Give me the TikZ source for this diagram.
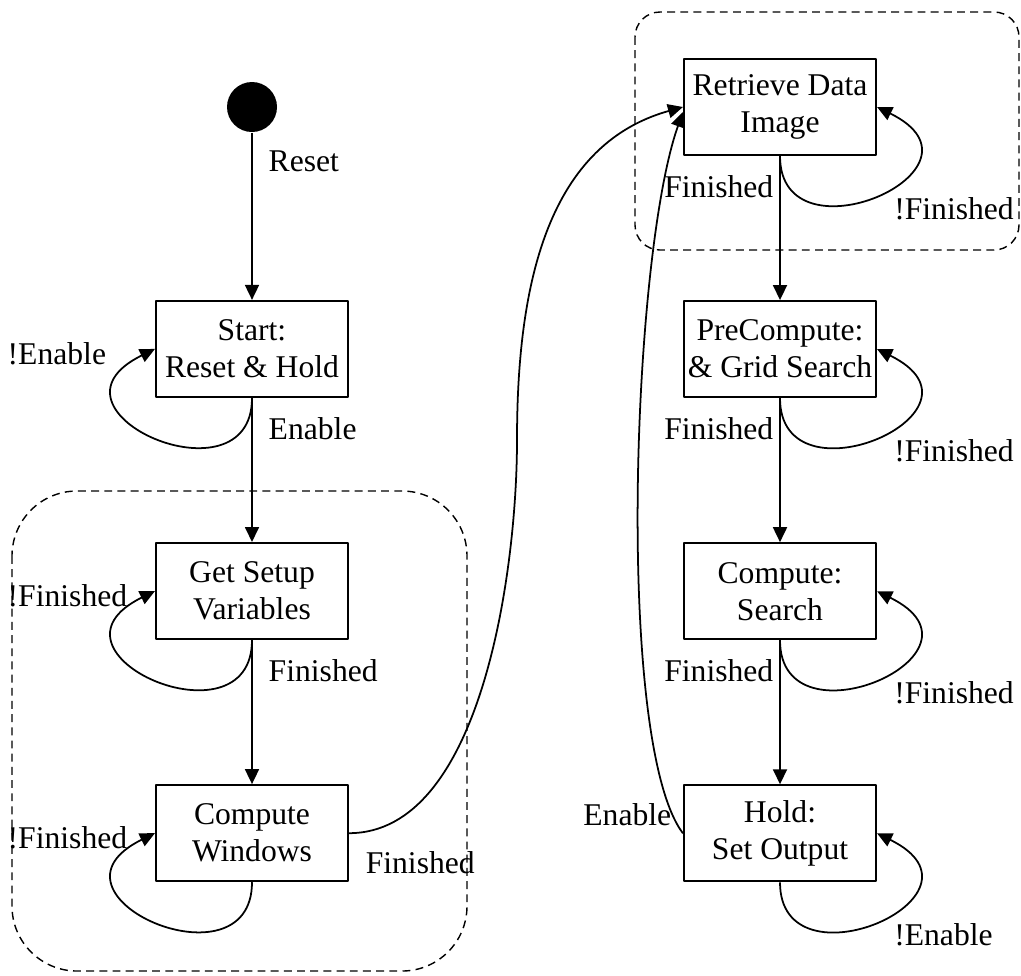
\documentclass[tikz,border=0pt]{standalone}
\usepackage{fontspec}
\setmainfont{Liberation Serif}
\usetikzlibrary{positioning,arrows.meta}
\begin{document}
\begin{tikzpicture}[font=\fontsize{18}{21}\selectfont, line join=round, line width=1pt,
		>={Triangle[length=0.3cm,width=0.28cm]}, node distance=2.88cm,
		state/.style={draw, line width=1.2pt, minimum width=3.84cm, minimum height=1.92cm, inner sep=0pt, align=center},
		groupbox/.style={draw, line width=0.8pt, dash pattern=on 4.5pt off 3pt},
		loopL/.style={anchor=west, xshift=-3.08cm, yshift=-0.1cm},
		loopR/.style={anchor=west, xshift=0.21cm, yshift=-2.03cm}]
	\useasboundingbox (0,0) rectangle (20.42,-19.5);
	% dashed groups
	\draw[groupbox, rounded corners=1.3cm] (0.24,-9.82) rectangle (9.34,-19.42);
	\draw[groupbox, rounded corners=0.5cm] (12.7,-0.24) rectangle (20.38,-5.0);
	% left column
	\node[circle, fill, minimum size=1cm, inner sep=0pt] (init) at (5.04,-2.14) {};
	\node[state, below=3.34cm of init] (start) {Start:\\Reset \& Hold};
	\node[state, below=of start] (setup) {Get Setup\\Variables};
	\node[state, below=of setup] (windows) {Compute\\Windows};
	% right column
	\node[state] (retrieve) at (15.6,-2.14) {Retrieve Data\\Image};
	\node[state, below=of retrieve] (precomp) {PreCompute:\\\& Grid Search};
	\node[state, below=of precomp] (search) {Compute:\\Search};
	\node[state, below=of search] (hold) {Hold:\\Set Output};
	\coordinate (wbend) at (10.34,-8.8);
	% transitions
	\draw[->] (init) -- node[right=0.2cm, pos=0.17]{Reset} (start);
	\draw[->] (start) -- node[right=0.2cm, pos=0.21]{Enable} (setup);
	\draw[->] (setup) -- node[right=0.2cm, pos=0.21]{Finished} (windows);
	\draw[->] (retrieve) -- node[left, pos=0.21]{Finished} (precomp);
	\draw[->] (precomp) -- node[left, pos=0.21]{Finished} (search);
	\draw[->] (search) -- node[left, pos=0.21]{Finished} (hold);
	\draw[->] (windows.east) node[anchor=west, xshift=0.2cm, yshift=-0.6cm]{Finished}
		.. controls +(2.64,0) and +(0,-2.64) .. (wbend)
		.. controls +(0,2.9) and +(-2.8,-0.78) .. (retrieve.west);
	\draw[->] (hold.west) node[anchor=east, xshift=-0.1cm, yshift=0.38cm]{Enable}
		.. controls +(-1.36,1.8) and +(-1.02,-2.86) .. ([yshift=-0.1cm]retrieve.west);
	% self loops
	\foreach \s/\t in {start/!Enable, setup/!Finished, windows/!Finished}{
		\draw[->] (\s.south) .. controls +(0,-2.2) and +(-2.52,-1.24) .. (\s.west) node[loopL]{\t};}
	\foreach \s/\t in {retrieve/!Finished, precomp/!Finished, search/!Finished, hold/!Enable}{
		\draw[->] (\s.south) .. controls +(0,-2.2) and +(2.52,-1.24) .. (\s.east) node[loopR]{\t};}
\end{tikzpicture}
\end{document}
